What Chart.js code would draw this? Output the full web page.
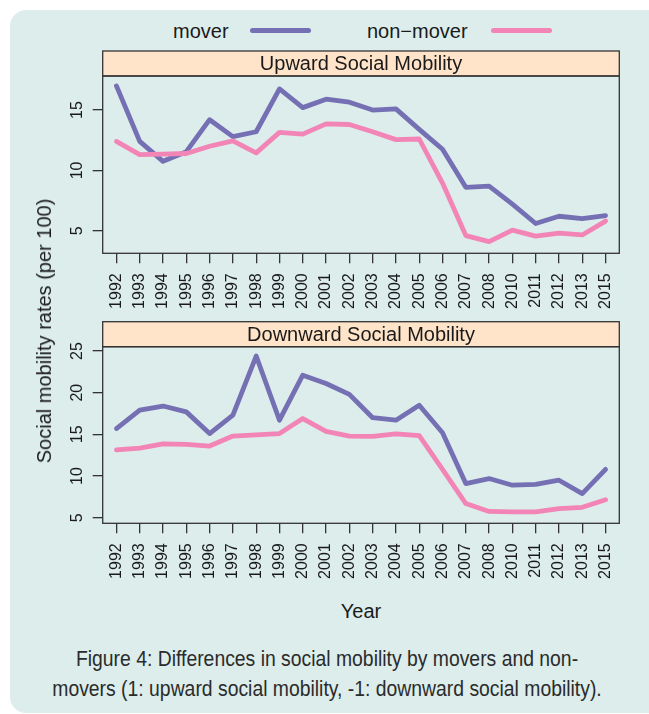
<!DOCTYPE html>
<html>
<head>
<meta charset="utf-8">
<script src="https://cdn.jsdelivr.net/npm/chart.js@4"></script>
<style>
  html, body { margin: 0; padding: 0; background: #fff; }
  body { width: 649px; height: 714px; overflow: hidden; position: relative; font-family: "Liberation Sans", Arial, sans-serif; color: #1a1a1a; }
  .frame { position: absolute; left: 10px; top: 10px; width: 680px; height: 703px; border-radius: 16px; background: #dcedec; }
  canvas { position: absolute; left: 0; }
  .txt { position: absolute; white-space: nowrap; font-size: 20px; line-height: 20px; }
  .key { position: absolute; height: 5px; border-radius: 3px; top: 28px; }
  .caption { position: absolute; left: 0; width: 654px; text-align: center; font-family: "Liberation Sans Narrow", "Liberation Sans", sans-serif; font-size: 22px; line-height: 30px; color: #2b2b2b; top: 644px; transform: scaleX(0.88); transform-origin: 327px 0; }
</style>
</head>
<body>
<div class="frame"></div>

<!-- legend -->
<div class="txt" style="left:173px; top:21px;">mover</div>
<div class="key" style="left:250px; width:61px; background:#7570b3;"></div>
<div class="txt" style="left:367px; top:21px;">non&minus;mover</div>
<div class="key" style="left:491px; width:61px; background:#f285b5;"></div>

<canvas id="upChart" style="top:0px"></canvas>
<canvas id="downChart" style="top:300px"></canvas>

<div class="txt" style="left:44px; top:331px; transform: translate(-50%,-50%) rotate(-90deg);">Social mobility rates (per 100)</div>
<div class="txt" style="left:361px; top:611px; transform: translate(-50%,-50%);">Year</div>

<div class="caption">Figure 4: Differences in social mobility by movers and non-<br>movers (1: upward social mobility, -1: downward social mobility).</div>

<script>
// --- data ---
const years = ["1992","1993","1994","1995","1996","1997","1998","1999","2000","2001","2002",
               "2003","2004","2005","2006","2007","2008","2010","2011","2012","2013","2015"];

const upMover    = [17.0, 12.4, 10.75, 11.55, 14.2, 12.8, 13.2, 16.75, 15.2, 15.9, 15.65,
                    15.0, 15.1, 13.4, 11.75, 8.6, 8.7, 7.2, 5.6, 6.2, 6.0, 6.25];
const upNonMover = [12.4, 11.3, 11.35, 11.4, 12.0, 12.45, 11.45, 13.15, 13.0, 13.85, 13.8,
                    13.2, 12.55, 12.6, 8.95, 4.6, 4.1, 5.05, 4.55, 4.8, 4.65, 5.8];

const downMover    = [15.7, 17.9, 18.4, 17.7, 15.1, 17.3, 24.4, 16.7, 22.1, 21.1, 19.8,
                      17.0, 16.7, 18.5, 15.2, 9.1, 9.7, 8.9, 9.0, 9.5, 7.9, 10.8];
const downNonMover = [13.15, 13.35, 13.85, 13.8, 13.6, 14.8, 14.95, 15.1, 16.9, 15.35, 14.8,
                      14.75, 15.05, 14.85, 10.8, 6.7, 5.75, 5.7, 5.7, 6.1, 6.25, 7.15];

const upTicks = [5, 10, 15];
const downTicks = [5, 10, 15, 20, 25];

const MOVER_COL = "#7570b3";
const NONMOVER_COL = "#f285b5";
const INK = "#1a1a1a";
const FONT = "'Liberation Sans', Arial, sans-serif";

// --- strip + box round each panel (lattice style), rotated y labels ---
const panelFrame = {
  id: "panelFrame",
  afterDatasetsDraw(chart, args, opts) {
    const { ctx, chartArea: a } = chart;
    const h = 25;
    ctx.save();
    ctx.fillStyle = "#ffe4ca";
    ctx.fillRect(a.left, a.top - h, a.right - a.left, h);
    ctx.strokeStyle = "#333";
    ctx.lineWidth = 1.3;
    ctx.strokeRect(a.left, a.top - h, a.right - a.left, h);
    ctx.strokeRect(a.left, a.top, a.right - a.left, a.bottom - a.top);
    ctx.fillStyle = INK;
    ctx.font = "20px " + FONT;
    ctx.textAlign = "center";
    ctx.textBaseline = "middle";
    ctx.fillText(opts.text, (a.left + a.right) / 2, a.top - h / 2 + 1);

    // y tick labels, reading bottom-to-top like R's las=0
    const y = chart.scales.y;
    ctx.font = "16px " + FONT;
    y.ticks.forEach(t => {
      ctx.save();
      ctx.translate(76.5, y.getPixelForValue(t.value));
      ctx.rotate(-Math.PI / 2);
      ctx.fillText(String(t.value), 0, 1);
      ctx.restore();
    });
    ctx.restore();
  }
};

function series(vals) {
  return vals.map((v, i) => ({ x: i, y: v }));
}

function makePanel(id, height, title, mover, nonMover, yTicks, yMin, yMax, topPad, xHeight) {
  const el = document.getElementById(id);
  el.width = 649; el.height = height;
  el.style.width = "649px"; el.style.height = height + "px";

  return new Chart(el.getContext("2d"), {
    type: "line",
    data: {
      datasets: [
        { label: "mover", data: series(mover), borderColor: MOVER_COL, order: 1 },
        { label: "non-mover", data: series(nonMover), borderColor: NONMOVER_COL, order: 0 }
      ]
    },
    options: {
      responsive: false,
      animation: false,
      layout: { padding: { left: 0, right: 29.7, top: topPad, bottom: 0 } },
      elements: {
        line: { borderWidth: 4.8, tension: 0, borderCapStyle: "round", borderJoinStyle: "round" },
        point: { radius: 0 }
      },
      plugins: {
        legend: { display: false },
        tooltip: { enabled: false },
        panelFrame: { text: title }
      },
      scales: {
        x: {
          type: "linear",
          min: -0.59, max: years.length - 1 + 0.59,
          afterBuildTicks: s => { s.ticks = years.map((_, i) => ({ value: i })); },
          afterFit: s => { s.height = xHeight; },
          grid: { drawOnChartArea: false, tickLength: 10, color: "#333", lineWidth: 1.3 },
          border: { display: false },
          ticks: {
            autoSkip: false, minRotation: 90, maxRotation: 90, padding: 10,
            color: INK, font: { family: FONT, size: 16 },
            callback: v => years[v]
          }
        },
        y: {
          min: yMin, max: yMax,
          afterBuildTicks: s => { s.ticks = yTicks.map(v => ({ value: v })); },
          afterFit: s => { s.width = 102.7; },
          grid: { drawOnChartArea: false, tickLength: 10, color: "#333", lineWidth: 1.3 },
          border: { display: false },
          ticks: { display: false }
        }
      }
    },
    plugins: [panelFrame]
  });
}

// top panel: plot area 76 .. 253.3 on page
makePanel("upChart", 320, "Upward Social Mobility", upMover, upNonMover, upTicks, 3.13, 17.82, 76, 66.7);
// bottom panel: canvas starts at 300, plot area 346.7 .. 523.3 on page
makePanel("downChart", 300, "Downward Social Mobility", downMover, downNonMover, downTicks, 4.33, 25.52, 46.7, 76.7);
</script>
</body>
</html>
